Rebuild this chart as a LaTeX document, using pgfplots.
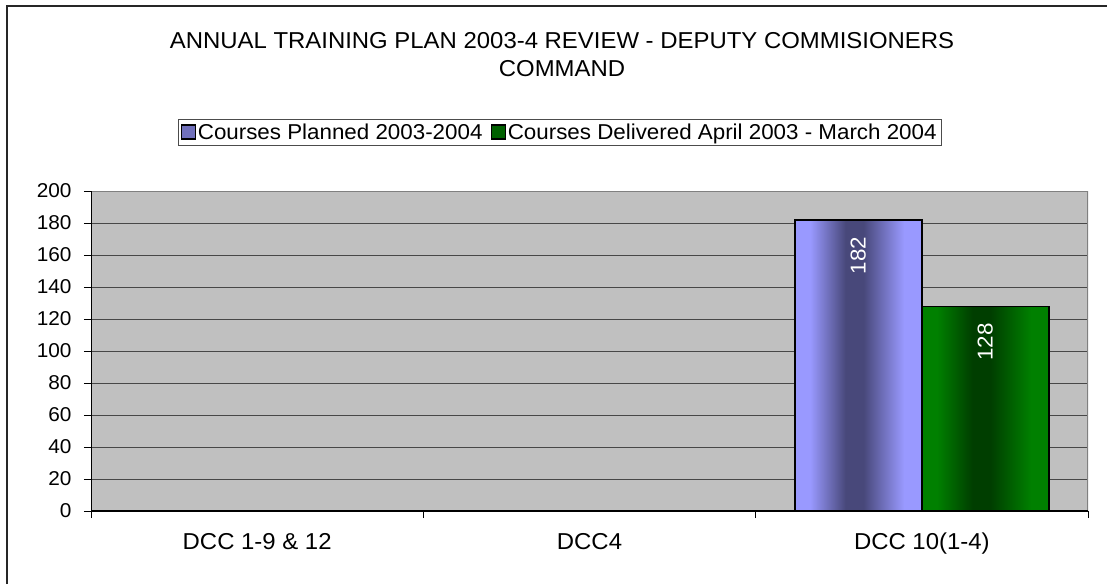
\documentclass[border=0pt]{standalone}
\usepackage{fontspec}
\setmainfont{Liberation Sans}[FakeStretch=1.04]
\usepackage{pgfplots}
\pgfplotsset{compat=1.18}
\definecolor{plotbg}{HTML}{C0C0C0}
\definecolor{bluelt}{HTML}{9999FF}
\definecolor{bluedk}{HTML}{48487A}
\definecolor{greenlt}{HTML}{008000}
\definecolor{greendk}{HTML}{003E00}
\definecolor{legblue}{HTML}{7070BB}
\definecolor{leggreen}{HTML}{006000}
\pgfdeclarehorizontalshading{blueshade}{100bp}{color(0bp)=(bluelt); color(25bp)=(bluelt); color(31bp)=(bluelt); color(45bp)=(bluedk); color(52bp)=(bluedk); color(68bp)=(bluelt); color(75bp)=(bluelt); color(100bp)=(bluelt)}
\pgfdeclarehorizontalshading{greenshade}{100bp}{color(0bp)=(greenlt); color(25bp)=(greenlt); color(31bp)=(greenlt); color(45bp)=(greendk); color(52bp)=(greendk); color(68bp)=(greenlt); color(75bp)=(greenlt); color(100bp)=(greenlt)}
\pgfplotstableread{
x planned delivered
2 182 128
}\datatable
\begin{document}
\begin{tikzpicture}[x=1pt,y=1pt]
\useasboundingbox (0,0) rectangle (1107,584);
\draw[black!85, line width=1.4pt] (7,0) -- (7,578) -- (1107,578);
\node[font=\fontsize{23}{28}\selectfont, align=center] at (562,529) {ANNUAL TRAINING PLAN 2003-4 REVIEW - DEPUTY COMMISIONERS\\COMMAND};
\begin{axis}[
  at={(91pt,73pt)}, anchor=south west,
  scale only axis, width=997pt, height=320pt,
  xmin=-0.5, xmax=2.5, ymin=0, ymax=200,
  /pgf/number format/assume math mode=true,
  ytick distance=20,
  xtick={-0.5,0.5,1.5,2.5}, xticklabels={},
  extra x ticks={0,1,2},
  extra x tick labels={DCC 1-9 \& 12, DCC4, DCC 10(1-4)},
  extra x tick style={major tick length=0pt, grid=none,
    xticklabel style={anchor=base, yshift=-38pt}},
  xtick pos=bottom, ytick pos=left,
  tick align=outside, major tick length=7pt,
  tick style={black, line width=1pt},
  axis line style={draw=none},
  axis background/.style={fill=plotbg},
  ymajorgrids, grid style={black!72, line width=1pt},
  yticklabel style={font=\fontsize{20}{24}\selectfont, xshift=-9pt},
  xticklabel style={font=\fontsize{23}{28}\selectfont},
  ybar=0pt, bar width=127pt,
  legend style={at={(0.47,1.184)}, anchor=center, legend columns=2,
    draw=black!70, line width=1pt, fill=white, inner sep=2.5pt,
    font=\fontsize{21.5}{26}\selectfont,
    nodes={inner xsep=2pt},
    /tikz/every even column/.append style={column sep=6pt}},
  nodes near coords,
  nodes near coords style={font=\fontsize{21.5}{25}\selectfont, color=white, yshift=-13pt, rotate=90, anchor=east},
]
\addlegendimage{legend image code/.code={\draw[fill=legblue, draw=black, line width=1.3pt] (-2pt,-7pt) rectangle (12pt,7pt);}}
\addlegendentry{Courses Planned 2003-2004}
\addlegendimage{legend image code/.code={\draw[fill=leggreen, draw=black, line width=1.3pt] (-2pt,-7pt) rectangle (12pt,7pt);}}
\addlegendentry{Courses Delivered April 2003 - March 2004}
\addplot[forget plot, bar shift=-63.5pt, draw=black, line width=1.4pt, shading=blueshade] table[x=x, y=planned] {\datatable};
\addplot[forget plot, bar shift=63.5pt, draw=black, line width=1.4pt, shading=greenshade] table[x=x, y=delivered] {\datatable};
\draw[black!50, line width=2.5pt] (rel axis cs:0,1) -- (rel axis cs:1,1) -- (rel axis cs:1,0);
\draw[black, line width=1.2pt] (rel axis cs:0,1) -- (rel axis cs:0,0) -- (rel axis cs:1,0);
\end{axis}
\end{tikzpicture}
\end{document}
